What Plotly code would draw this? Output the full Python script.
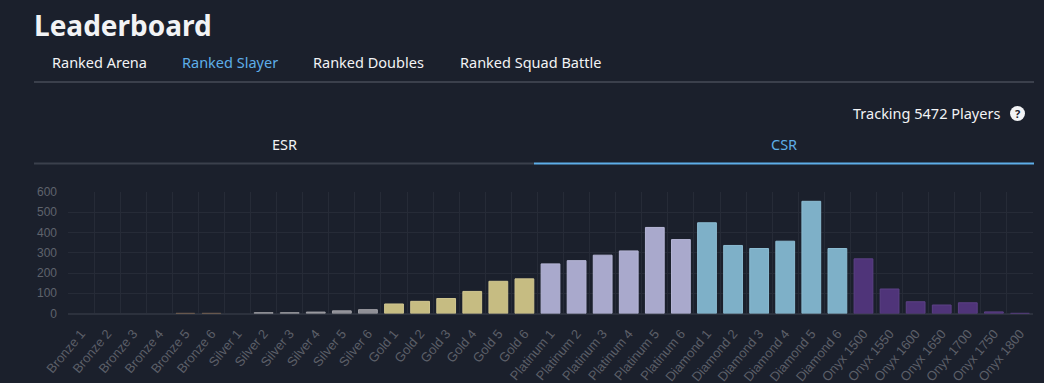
import plotly.graph_objects as go

W, H = 1044, 383

categories = [
    "Bronze 1", "Bronze 2", "Bronze 3", "Bronze 4", "Bronze 5", "Bronze 6",
    "Silver 1", "Silver 2", "Silver 3", "Silver 4", "Silver 5", "Silver 6",
    "Gold 1", "Gold 2", "Gold 3", "Gold 4", "Gold 5", "Gold 6",
    "Platinum 1", "Platinum 2", "Platinum 3", "Platinum 4", "Platinum 5", "Platinum 6",
    "Diamond 1", "Diamond 2", "Diamond 3", "Diamond 4", "Diamond 5", "Diamond 6",
    "Onyx 1500", "Onyx 1550", "Onyx 1600", "Onyx 1650", "Onyx 1700", "Onyx 1750", "Onyx 1800",
]
players = [
    0, 0, 0, 0, 1, 1,
    0, 4, 4, 7, 13, 19,
    47, 60, 74, 109, 159, 171,
    245, 261, 288, 309, 425, 365,
    448, 336, 321, 357, 554, 321,
    270, 121, 58, 42, 53, 8, 1,
]
tier_fill = {"Bronze": "#6e5a48", "Silver": "#8f8f96", "Gold": "#c6bc82",
             "Platinum": "#a9a9cc", "Diamond": "#7eb0c8", "Onyx": "#4f3479"}
tier_edge = {"Bronze": "#7c6754", "Silver": "#a0a0a6", "Gold": "#d0c690",
             "Platinum": "#b6b6d6", "Diamond": "#8cbcd2", "Onyx": "#5c4086"}
y_ticks = [0, 100, 200, 300, 400, 500, 600]

page_tabs = ["Ranked Arena", "Ranked Slayer", "Ranked Doubles", "Ranked Squad Battle"]
page_tab_x = [50, 180, 311, 458]
active_tab = "Ranked Slayer"
player_count = 5472

BG = "#1b202c"
BLUE = "#5eaee8"
UI_FONT = "Noto Sans"

fills = [tier_fill[c.split()[0]] for c in categories]
edges = [tier_edge[c.split()[0]] for c in categories]
edge_w = [1 if v > 0 else 0 for v in players]

fig = go.Figure(go.Bar(
    x=categories, y=players,
    marker=dict(color=fills, line=dict(color=edges, width=edge_w)),
    hoverinfo="x+y",
))

def px(x):
    return x / W

def py(y):
    return 1 - y / H

annotations = []
shapes = []

def note(text, x, y, xanchor, size, color, family=UI_FONT):
    annotations.append(dict(text=text, x=px(x), y=py(y), xref="paper", yref="paper",
                            xanchor=xanchor, yanchor="middle", showarrow=False,
                            font=dict(family=family, size=size, color=color)))

def hline(x0, x1, y, color, width=2):
    shapes.append(dict(type="line", xref="paper", yref="paper", x0=px(x0), x1=px(x1), y0=py(y), y1=py(y),
                       line=dict(color=color, width=width)))

note("<b>Leaderboard</b>", 32, 25, "left", 28, "#f2f3f5")
for t, xx in zip(page_tabs, page_tab_x):
    note(t, xx, 62, "left", 14.5, BLUE if t == active_tab else "#f2f3f5")
hline(34, 1034, 82, "#3b404c")

note(f"Tracking {player_count} Players", 1002, 113, "right", 14.5, "#f2f3f5")
shapes.append(dict(type="circle", xref="paper", yref="paper", x0=px(1010), x1=px(1025), y0=py(106), y1=py(121),
                   fillcolor="#f2f3f5", line=dict(width=0)))
note("<b>?</b>", 1017.5, 113.5, "center", 11, BG)

note("ESR", 284, 144, "center", 14.5, "#f2f3f5")
note("CSR", 784, 144, "center", 14.5, BLUE)
hline(34, 534, 163.5, "#3b404c")
hline(534, 1034, 163.5, BLUE)

fig.update_layout(
    width=W, height=H, autosize=False,
    margin=dict(l=0, r=0, t=0, b=0, pad=0),
    paper_bgcolor=BG, plot_bgcolor=BG,
    showlegend=False, bargap=0.28,
    annotations=annotations, shapes=shapes,
    xaxis=dict(domain=[px(68), px(1033)], type="category", tickson="boundaries", automargin=False,
               range=[-0.5, len(categories) - 0.5],
               showgrid=True, gridcolor="#262b37", gridwidth=1, showline=False, zeroline=False,
               tickangle=-50, ticks="", ticklen=0, ticklabelstandoff=9,
               tickfont=dict(family="Liberation Sans", size=13, color="#5b5f68")),
    yaxis=dict(domain=[py(313.5), py(192)], range=[0, 600], tickvals=y_ticks, automargin=False,
               showgrid=True, gridcolor="#262b37", gridwidth=1, zeroline=True, zerolinecolor="#2c313d",
               showline=False, ticks="", ticklabelstandoff=10,
               tickfont=dict(family="Liberation Sans", size=12, color="#5f636c")),
)

fig.write_html("out.html", config={"displayModeBar": False},
               post_script="document.body.style.margin='0';document.body.style.overflow='hidden';")
